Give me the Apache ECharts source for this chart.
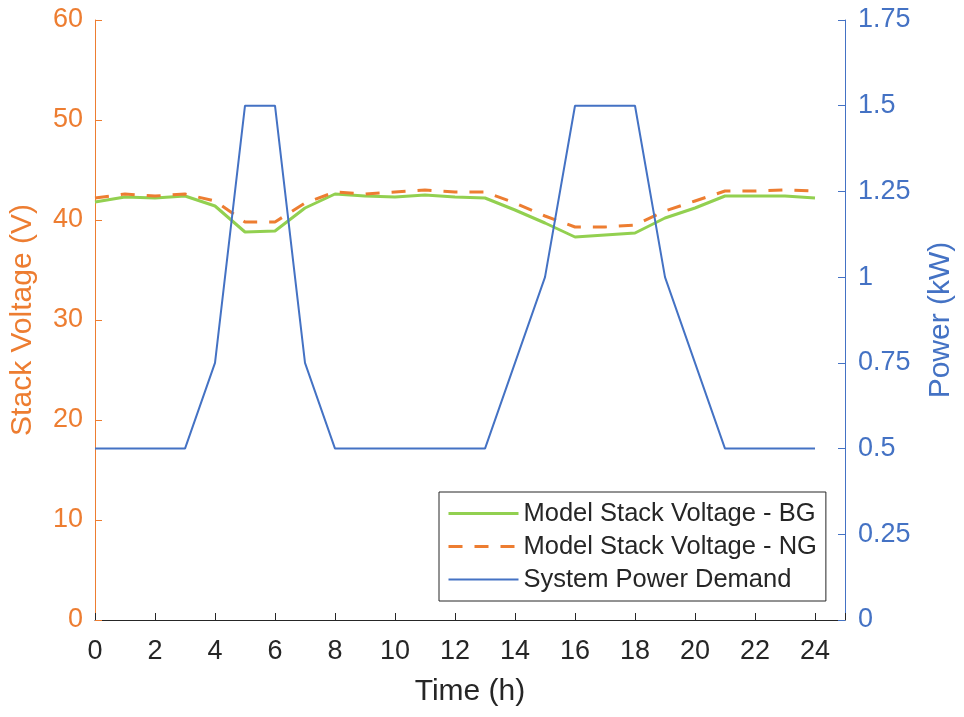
<!DOCTYPE html>
<html>
<head>
<meta charset="utf-8">
<script src="https://cdn.jsdelivr.net/npm/echarts@6/dist/echarts.min.js"></script>
<style>
  html, body { margin: 0; padding: 0; background: #fff; }
  #chart { width: 964px; height: 717px; }
</style>
</head>
<body>
<div id="chart"></div>
<script>
// Hour of day
const hours = [0,1,2,3,4,5,6,7,8,9,10,11,12,13,14,15,16,17,18,19,20,21,22,23,24];
// Model stack voltage with biogas (V)
const voltageBG = [41.8,42.3,42.2,42.4,41.4,38.8,38.9,41.2,42.6,42.4,42.3,42.5,42.3,42.2,41.0,39.7,38.3,38.5,38.7,40.2,41.2,42.4,42.4,42.4,42.2];
// Model stack voltage with natural gas (V)
const voltageNG = [42.2,42.6,42.4,42.6,41.9,39.8,39.8,41.7,42.8,42.6,42.8,43.0,42.8,42.8,41.7,40.4,39.3,39.3,39.5,40.9,41.9,42.9,42.9,43.0,42.9];
// System power demand (kW)
const powerDemand = [0.5,0.5,0.5,0.5,0.75,1.5,1.5,0.75,0.5,0.5,0.5,0.5,0.5,0.5,0.75,1.0,1.5,1.5,1.5,1.0,0.75,0.5,0.5,0.5,0.5];
// Legend entries
const seriesNames = ['Model Stack Voltage - BG', 'Model Stack Voltage - NG', 'System Power Demand'];

const ORANGE = '#ED7D31';
const BLUE = '#4472C4';
const GREEN = '#92D050';
const DARK = '#262626';
const FONT = '"Liberation Sans", Arial, Helvetica, sans-serif';
const DASH = [14, 12];

const pairs = (ys) => hours.map((h, i) => [h, ys[i]]);

const chart = echarts.init(document.getElementById('chart'), null, { renderer: 'canvas' });
chart.setOption({
  animation: false,
  backgroundColor: '#ffffff',
  textStyle: { fontFamily: FONT },
  grid: { left: 95, right: 119, top: 20, bottom: 97, containLabel: false },
  legend: {
    orient: 'vertical',
    left: 439,
    top: 492,
    padding: [8, 9, 8, 8],
    itemGap: 6,
    itemWidth: 70,
    itemHeight: 22,
    borderColor: DARK,
    borderWidth: 1,
    backgroundColor: '#fff',
    itemStyle: { opacity: 0 },
    textStyle: { fontFamily: FONT, fontSize: 25.5, lineHeight: 27, color: DARK },
    data: [
      { name: seriesNames[0], lineStyle: { color: GREEN, width: 3 } },
      { name: seriesNames[1], lineStyle: { color: ORANGE, width: 3, type: DASH } },
      { name: seriesNames[2], lineStyle: { color: BLUE, width: 2 } }
    ]
  },
  xAxis: {
    type: 'value',
    min: 0,
    max: 25,
    interval: 2,
    name: 'Time (h)',
    nameLocation: 'middle',
    nameGap: 57,
    nameTextStyle: { fontFamily: FONT, fontSize: 30, color: DARK },
    axisLine: { show: true, onZero: false, lineStyle: { color: DARK, width: 1 } },
    axisTick: { show: true, inside: true, length: 7, lineStyle: { color: DARK } },
    axisLabel: {
      fontFamily: FONT, fontSize: 27, color: DARK, margin: 18,
      formatter: (v) => (v > 24 ? '' : String(v))
    },
    splitLine: { show: false }
  },
  yAxis: [
    {
      type: 'value',
      position: 'left',
      min: 0,
      max: 60,
      interval: 10,
      name: 'Stack Voltage (V)',
      nameLocation: 'middle',
      nameGap: 57,
      nameTextStyle: { fontFamily: FONT, fontSize: 30, color: ORANGE },
      axisLine: { show: true, lineStyle: { color: ORANGE, width: 1 } },
      axisTick: { show: true, inside: true, length: 7, lineStyle: { color: ORANGE } },
      axisLabel: { fontFamily: FONT, fontSize: 27, color: ORANGE, margin: 12 },
      splitLine: { show: false }
    },
    {
      type: 'value',
      position: 'right',
      min: 0,
      max: 1.75,
      interval: 0.25,
      name: 'Power (kW)',
      nameLocation: 'middle',
      nameGap: 81,
      nameTextStyle: { fontFamily: FONT, fontSize: 30, color: BLUE },
      axisLine: { show: true, lineStyle: { color: BLUE, width: 1 } },
      axisTick: { show: true, inside: true, length: 7, lineStyle: { color: BLUE } },
      axisLabel: { fontFamily: FONT, fontSize: 27, color: BLUE, margin: 13 },
      splitLine: { show: false }
    }
  ],
  series: [
    {
      name: seriesNames[0],
      type: 'line',
      yAxisIndex: 0,
      data: pairs(voltageBG),
      showSymbol: false,
      symbol: 'none',
      lineStyle: { color: GREEN, width: 3 },
      itemStyle: { color: GREEN }
    },
    {
      name: seriesNames[1],
      type: 'line',
      yAxisIndex: 0,
      data: pairs(voltageNG),
      showSymbol: false,
      symbol: 'none',
      lineStyle: { color: ORANGE, width: 3, type: DASH },
      itemStyle: { color: ORANGE }
    },
    {
      name: seriesNames[2],
      type: 'line',
      yAxisIndex: 1,
      data: pairs(powerDemand),
      showSymbol: false,
      symbol: 'none',
      lineStyle: { color: BLUE, width: 2 },
      itemStyle: { color: BLUE }
    }
  ]
});
</script>
</body>
</html>
